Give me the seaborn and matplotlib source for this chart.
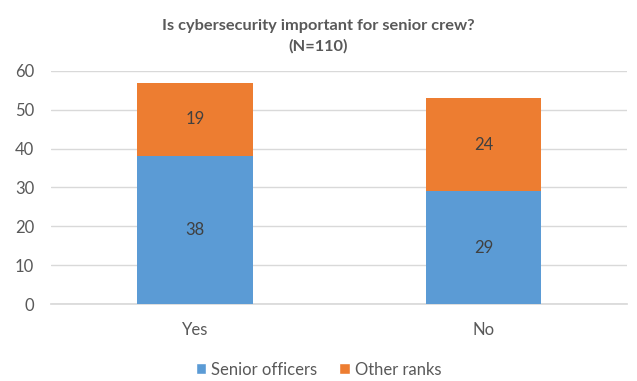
import matplotlib
matplotlib.use("Agg")
import matplotlib.pyplot as plt
from matplotlib.patches import Patch
import seaborn as sns
import pandas as pd

categories = ["Yes", "No"]
senior_officers = [38, 29]
other_ranks = [19, 24]
series_names = ["Senior officers", "Other ranks"]
title = "Is cybersecurity important for senior crew?\n(N=110)"

blue = "#5B9BD5"
orange = "#ED7D31"
text_grey = "#595959"

sns.set_theme(style="white")
plt.rcParams["font.family"] = ["Lato", "DejaVu Sans"]

df = pd.DataFrame({
    "answer": categories,
    "senior": senior_officers,
    "other": other_ranks,
})
df["total"] = df["senior"] + df["other"]

fig = plt.figure(figsize=(6.37, 3.81), dpi=100)
ax = fig.add_axes([0.08, 0.202, 0.905, 0.612])

# stacked bars: full height in orange, senior part drawn over it in blue
sns.barplot(data=df, x="answer", y="total", color=orange, width=0.4,
            saturation=1, linewidth=0, ax=ax, zorder=2)
sns.barplot(data=df, x="answer", y="senior", color=blue, width=0.4,
            saturation=1, linewidth=0, ax=ax, zorder=3)

for i, row in df.iterrows():
    ax.text(i, row["senior"] / 2, f"{row['senior']}", ha="center", va="center",
            fontsize=12, color="#404040", zorder=4)
    ax.text(i, row["senior"] + row["other"] / 2, f"{row['other']}", ha="center",
            va="center", fontsize=12, color="#404040", zorder=4)

ax.set_ylim(0, 60)
ax.set_xlim(-0.5, 1.5)
ax.set_yticks(range(0, 61, 10))
ax.yaxis.grid(True, color="#D9D9D9", linewidth=1)
ax.set_axisbelow(True)
for s in ax.spines.values():
    s.set_visible(False)
ax.spines["bottom"].set_visible(True)
ax.spines["bottom"].set_color("#D9D9D9")
ax.set_xlabel("")
ax.set_ylabel("")
ax.tick_params(axis="both", length=0, labelsize=12, labelcolor=text_grey)
ax.tick_params(axis="x", pad=13)
ax.tick_params(axis="y", pad=12)

fig.text(0.5, 0.905, title, ha="center", va="center", fontsize=11.8,
         fontweight="bold", color=text_grey, linespacing=1.55)

handles = [Patch(facecolor=blue, label=series_names[0]),
           Patch(facecolor=orange, label=series_names[1])]
fig.legend(handles=handles, loc="center", bbox_to_anchor=(0.5, 0.03),
           ncol=2, frameon=False, fontsize=12, labelcolor=text_grey,
           handlelength=0.65, handleheight=0.65, handletextpad=0.3,
           columnspacing=1.3)

fig.savefig("out.png", dpi=100, facecolor="white")
